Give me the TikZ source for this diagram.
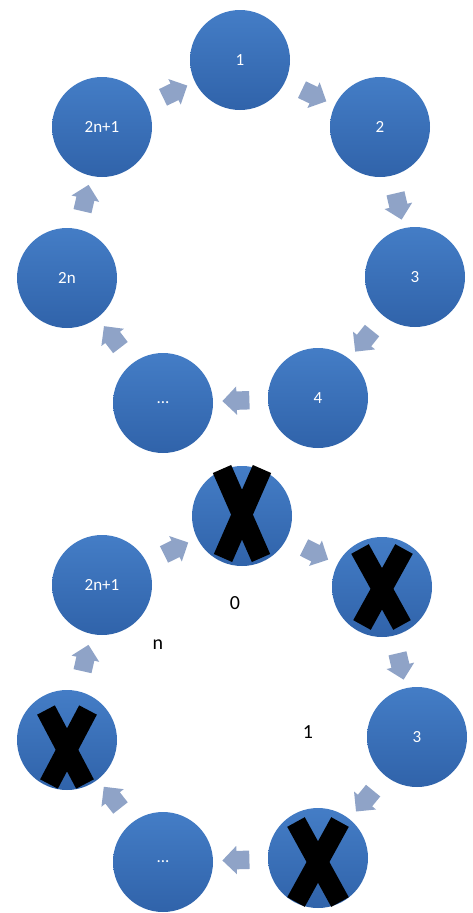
\documentclass[tikz,border=0pt]{standalone}
\usepackage{fontspec}
\setmainfont{Carlito}
\usetikzlibrary{shapes.arrows,calc}
\definecolor{circtop}{HTML}{447DC6}
\definecolor{circbot}{HTML}{3063AA}
\definecolor{arrblue}{HTML}{8FA3C7}
\tikzset{
  circ/.style={circle,minimum size=100pt,inner sep=0pt,top color=circtop,bottom color=circbot,text=white,font=\fontsize{17}{17}\selectfont},
  arr/.style={single arrow,minimum height=27pt,single arrow head extend=5pt,inner xsep=0pt,inner ysep=9pt,fill=arrblue,sloped,allow upside down},
  lbl/.style={text=black,font=\fontsize{20}{20}\selectfont},
  xbar/.style={line width=20pt,black}
}
\newcommand{\xmark}[5]{%
  \draw[xbar] ($(#1)+(-#2,-#3)$) -- ($(#1)+(#4,#5)$);
  \draw[xbar] ($(#1)+(#2,-#3)$) -- ($(#1)+(-#4,#5)$);
}
\begin{document}
\begin{tikzpicture}[x=1pt,y=-1pt]
\useasboundingbox (0,0) rectangle (472,913);
% top cycle
\node[circ] (t1) at (240,60) {1};
\node[circ] (t2) at (380,127) {2};
\node[circ] (t3) at (415,277) {3};
\node[circ] (t4) at (318,398) {4};
\node[circ] (t5) at (163,403) {...};
\node[circ] (t6) at (67,278) {2n};
\node[circ] (t7) at (102,127) {2n+1};
\path (t7) -- node[arr]{} (t1);
\path (t1) -- node[arr]{} (t2);
\path (t2) -- node[arr]{} (t3);
\path (t3) -- node[arr]{} (t4);
\path (t4) -- node[arr]{} (t5);
\path (t5) -- node[arr]{} (t6);
\path (t6) -- node[arr]{} (t7);
% bottom cycle
\node[circ] (b1) at (242,516) {};
\node[circ] (b2) at (382,587) {};
\node[circ] (b3) at (417,737) {3};
\node[circ] (b4) at (318,858) {};
\node[circ] (b5) at (163,862) {...};
\node[circ] (b6) at (67,740) {};
\node[circ] (b7) at (102,585) {2n+1};
\path (b7) -- node[arr]{} (b1);
\path (b1) -- node[arr]{} (b2);
\path (b2) -- node[arr]{} (b3);
\path (b3) -- node[arr]{} (b4);
\path (b4) -- node[arr]{} (b5);
\path (b5) -- node[arr]{} (b6);
\path (b6) -- node[arr]{} (b7);
% crosses
\xmark{b1}{20}{47}{19}{42}
\xmark{b2}{22}{38}{20}{38}
\xmark{b4}{22}{36}{22}{44}
\xmark{b6}{21}{30}{18}{44}
% labels
\node[lbl] (l0) at (235,603) {0};
\node[lbl] (ln) at (158,645) {n};
\node[lbl] (l1) at (308,732) {1};
\end{tikzpicture}
\end{document}
